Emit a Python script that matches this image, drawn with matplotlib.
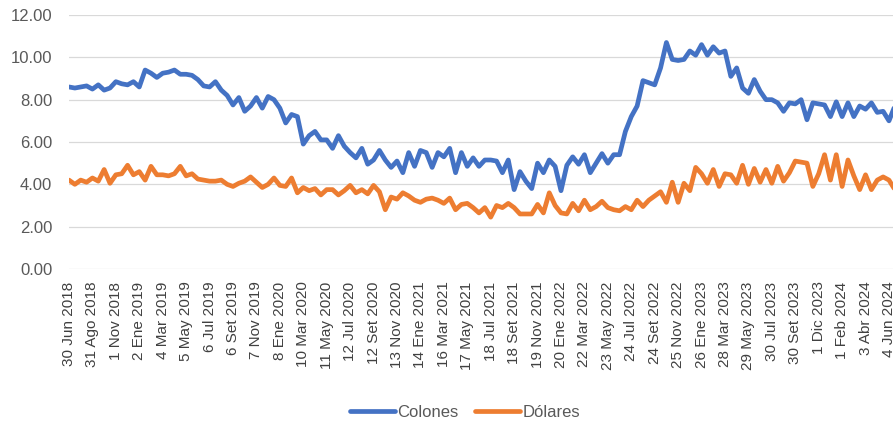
import matplotlib.pyplot as plt
import matplotlib.transforms as mtransforms
import numpy as np

# semi-monthly readings, 30 Jun 2018 .. Jun 2024
colones = [
    8.6, 8.55, 8.6, 8.65, 8.5, 8.7, 8.45, 8.55, 8.85, 8.75,
    8.7, 8.85, 8.6, 9.4, 9.25, 9.05, 9.25, 9.3, 9.4, 9.2,
    9.2, 9.15, 8.95, 8.65, 8.6, 8.85, 8.45, 8.2, 7.75, 8.1,
    7.45, 7.7, 8.1, 7.6, 8.15, 8.0, 7.6, 6.9, 7.3, 7.2,
    5.9, 6.3, 6.5, 6.1, 6.1, 5.7, 6.3, 5.8, 5.5, 5.25,
    5.7, 4.95, 5.15, 5.6, 5.15, 4.8, 5.1, 4.55, 5.5, 4.85,
    5.6, 5.5, 4.8, 5.5, 5.3, 5.7, 4.55, 5.5, 4.85, 5.25,
    4.85, 5.15, 5.15, 5.1, 4.55, 5.15, 3.75, 4.6, 4.15, 3.8,
    5.0, 4.55, 5.15, 4.85, 3.7, 4.9, 5.3, 4.95, 5.4, 4.55,
    5.0, 5.45, 5.0, 5.4, 5.4, 6.5, 7.2, 7.7, 8.9, 8.8,
    8.7, 9.5, 10.7, 9.9, 9.85, 9.9, 10.3, 10.1, 10.6, 10.1,
    10.5, 10.2, 10.3, 9.1, 9.5, 8.55, 8.3, 8.95, 8.4, 8.0,
    8.0, 7.85, 7.45, 7.85, 7.8, 8.0, 7.05, 7.85, 7.8, 7.75,
    7.2, 7.9, 7.2, 7.85, 7.2, 7.7, 7.55, 7.85, 7.4, 7.45,
    7.0, 7.7,
]
dolares = [
    4.2, 4.0, 4.2, 4.1, 4.3, 4.15, 4.7, 4.05, 4.45, 4.5,
    4.9, 4.45, 4.6, 4.2, 4.85, 4.45, 4.45, 4.4, 4.5, 4.85,
    4.4, 4.5, 4.25, 4.2, 4.15, 4.15, 4.2, 4.0, 3.9, 4.05,
    4.15, 4.35, 4.1, 3.85, 4.0, 4.3, 3.95, 3.9, 4.3, 3.6,
    3.85, 3.7, 3.8, 3.5, 3.75, 3.75, 3.5, 3.7, 3.95, 3.6,
    3.75, 3.55, 3.95, 3.65, 2.8, 3.4, 3.3, 3.6, 3.45, 3.25,
    3.15, 3.3, 3.35, 3.25, 3.1, 3.35, 2.8, 3.05, 3.1, 2.9,
    2.65, 2.9, 2.45, 3.0, 2.9, 3.1, 2.9, 2.6, 2.6, 2.6,
    3.05, 2.65, 3.6, 3.0, 2.65, 2.6, 3.1, 2.75, 3.25, 2.8,
    2.95, 3.2, 2.9, 2.8, 2.75, 2.95, 2.8, 3.25, 2.95, 3.25,
    3.45, 3.65, 3.15, 4.1, 3.15, 4.05, 3.7, 4.8, 4.5, 4.05,
    4.7, 3.9, 4.5, 4.45, 4.05, 4.9, 4.0, 4.75, 4.1, 4.7,
    4.05, 4.85, 4.15, 4.55, 5.1, 5.05, 5.0, 3.9, 4.5, 5.4,
    4.2, 5.4, 3.9, 5.15, 4.4, 3.75, 4.45, 3.75, 4.2, 4.35,
    4.2, 3.75,
]
date_labels = [
    "30 Jun 2018", "31 Ago 2018", "1 Nov 2018", "2 Ene 2019", "4 Mar 2019",
    "5 May 2019", "6 Jul 2019", "6 Set 2019", "7 Nov 2019", "8 Ene 2020",
    "10 Mar 2020", "11 May 2020", "12 Jul 2020", "12 Set 2020", "13 Nov 2020",
    "14 Ene 2021", "16 Mar 2021", "17 May 2021", "18 Jul 2021", "18 Set 2021",
    "19 Nov 2021", "20 Ene 2022", "22 Mar 2022", "23 May 2022", "24 Jul 2022",
    "24 Set 2022", "25 Nov 2022", "26 Ene 2023", "28 Mar 2023", "29 May 2023",
    "30 Jul 2023", "30 Set 2023", "1 Dic 2023", "1 Feb 2024", "3 Abr 2024",
    "4 Jun 2024",
]
LABEL_STEP = 4

plt.rcParams['font.family'] = ['Liberation Sans', 'DejaVu Sans']

fig = plt.figure(figsize=(8.93, 4.23), dpi=100)
ax = fig.add_axes([69 / 893, 154 / 423, 1 - 69 / 893, 254 / 423])

x = np.arange(len(colones))
ax.plot(x, colones, color="#4472C4", lw=3.4, solid_joinstyle="round",
        solid_capstyle="round", label="Colones")
ax.plot(x, dolares, color="#ED7D31", lw=3.4, solid_joinstyle="round",
        solid_capstyle="round", label="Dólares")

ax.set_ylim(0, 12)
ax.set_xlim(0, (893 - 69) / 5.857)
ax.set_yticks(np.arange(0, 13, 2))
ax.set_yticklabels([f"{v:.2f}" for v in np.arange(0, 13, 2)])
ax.set_xticks(np.arange(0, len(date_labels) * LABEL_STEP, LABEL_STEP))
ax.set_xticklabels(date_labels, rotation=90, va="top", ha="center")

# excel puts the date labels a little right of the category
shift = mtransforms.ScaledTranslation(3 / 100, 0, fig.dpi_scale_trans)
for lbl in ax.get_xticklabels():
    lbl.set_transform(lbl.get_transform() + shift)

ax.grid(axis="y", color="#D9D9D9", lw=0.9)
ax.set_axisbelow(True)
for side in ["top", "right", "left", "bottom"]:
    ax.spines[side].set_visible(False)
ax.tick_params(axis="y", length=0, pad=12, labelsize=12, labelcolor="#595959")
ax.tick_params(axis="x", length=0, pad=9, labelsize=11, labelcolor="#404040")

fig.legend(loc="center", bbox_to_anchor=(465 / 893, 1 - 412 / 423), ncol=2,
           frameon=False, fontsize=12, handlelength=2.7, handletextpad=0.12,
           columnspacing=1.0, labelcolor="#595959")

plt.savefig("out.png", dpi=100)
